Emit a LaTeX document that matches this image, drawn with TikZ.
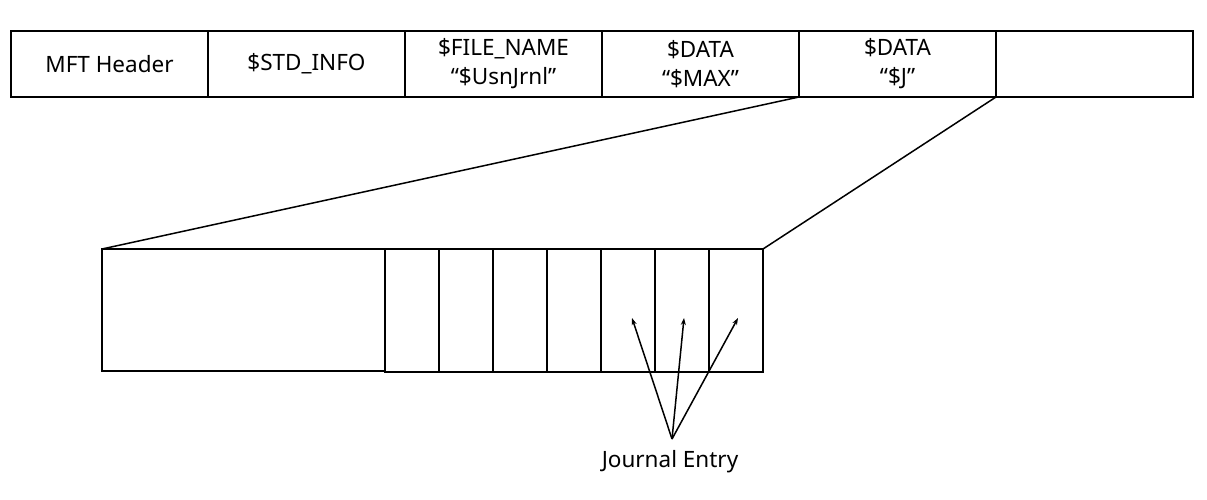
\documentclass[tikz,border=0pt]{standalone}
\usepackage{fontspec}
\setmainfont{Noto Sans}
\usetikzlibrary{arrows.meta}
\begin{document}
\begin{tikzpicture}[x=1pt,y=-1pt,
  cell/.style={draw,line width=1.8pt,minimum width=197pt,minimum height=66pt,inner sep=0pt,outer sep=0pt,align=center,font=\fontsize{22.5}{29}\selectfont},
  slot/.style={draw,line width=1.8pt,minimum width=54pt,minimum height=123pt,inner sep=0pt,outer sep=0pt},
  link/.style={line width=1.5pt},
  ptr/.style={line width=1.5pt,-{Stealth[length=7pt,width=5pt]}}]
\useasboundingbox (0,0) rectangle (1207,500);
\node[cell] (c1) at (109.5,64) {MFT Header};
\node[cell] (c2) at (306.5,64) {\$STD\_INFO};
\node[cell] (c3) at (503.5,64) {\$FILE\_NAME\\“\$UsnJrnl”};
\node[cell] (c4) at (700.5,64) {\$DATA\\“\$MAX”};
\node[cell] (c5) at (897.5,64) {\$DATA\\“\$J”};
\node[cell] (c6) at (1094.5,64) {};
\node[draw,line width=1.8pt,minimum width=283pt,minimum height=122pt,inner sep=0pt,outer sep=0pt] (big) at (243.5,310) {};
\foreach \i/\x in {1/412,2/466,3/520,4/574,5/628,6/682,7/736}
  \node[slot] (s\i) at (\x,310.5) {};
\draw[link] (c4.south east) -- (big.north west);
\draw[link] (c5.south east) -- (s7.north east);
\node[font=\fontsize{22.5}{28}\selectfont] (je) at (670,462) {Journal Entry};
\coordinate (hub) at (672,439);
\coordinate (t1) at (632,318);
\coordinate (t2) at (684,318);
\coordinate (t3) at (738,318);
\draw[ptr] (hub) -- (t1);
\draw[ptr] (hub) -- (t2);
\draw[ptr] (hub) -- (t3);
\end{tikzpicture}
\end{document}
